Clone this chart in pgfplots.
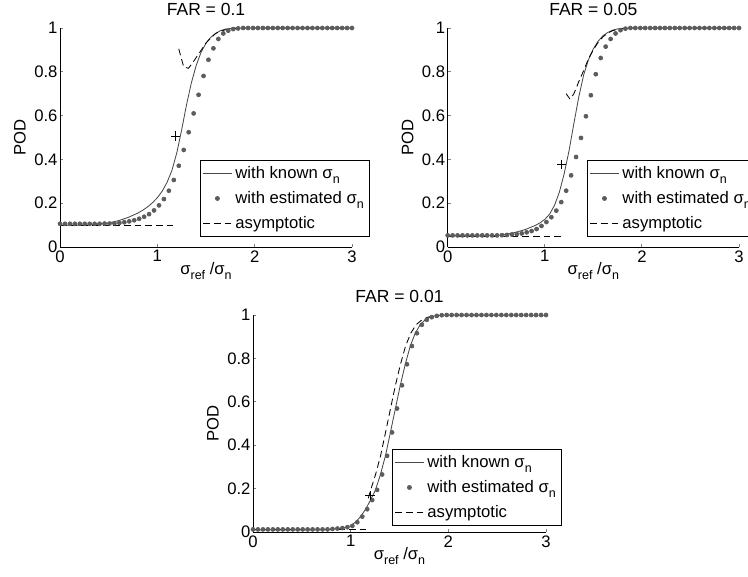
\documentclass[border=0pt]{standalone}
\usepackage{fontspec}
\setmainfont{Liberation Sans}
\usepackage{pgfplots}
\usepackage{pgfplotstable}
\pgfplotsset{compat=1.18}

\definecolor{solidgray}{gray}{0.28}
\definecolor{dotgray}{gray}{0.36}
\newcommand{\sub}[1]{\raisebox{-0.6ex}{\fontsize{7.5}{9}\selectfont #1}}

% estimated-sigma POD, x = 3k/59; columns a,b,c = FAR 0.1, 0.05, 0.01
\pgfplotstableread{
x      a     b     c
0.0000 0.106 0.053 0.012
0.0508 0.106 0.053 0.012
0.1017 0.106 0.053 0.012
0.1525 0.106 0.053 0.012
0.2034 0.106 0.053 0.012
0.2542 0.106 0.053 0.012
0.3051 0.106 0.053 0.012
0.3559 0.106 0.053 0.012
0.4068 0.106 0.053 0.012
0.4576 0.107 0.053 0.012
0.5085 0.107 0.053 0.012
0.5593 0.108 0.054 0.012
0.6102 0.110 0.055 0.012
0.6610 0.113 0.057 0.012
0.7119 0.117 0.059 0.012
0.7627 0.122 0.062 0.012
0.8136 0.129 0.067 0.014
0.8644 0.138 0.073 0.016
0.9153 0.150 0.082 0.018
0.9661 0.167 0.096 0.022
1.0169 0.190 0.114 0.028
1.0678 0.219 0.136 0.045
1.1186 0.257 0.166 0.071
1.1695 0.306 0.205 0.105
1.2203 0.371 0.257 0.147
1.2712 0.443 0.327 0.194
1.3220 0.524 0.411 0.265
1.3729 0.610 0.498 0.351
1.4237 0.695 0.597 0.459
1.4746 0.781 0.693 0.569
1.5254 0.855 0.789 0.676
1.5763 0.907 0.863 0.773
1.6271 0.950 0.915 0.857
1.6780 0.975 0.950 0.916
1.7288 0.988 0.975 0.955
1.7797 0.995 0.990 0.978
1.8305 0.998 0.997 0.990
1.8814 1.000 1.000 0.996
1.9322 1.000 1.000 0.999
1.9831 1.000 1.000 1.000
2.0339 1.000 1.000 1.000
2.0847 1.000 1.000 1.000
2.1356 1.000 1.000 1.000
2.1864 1.000 1.000 1.000
2.2373 1.000 1.000 1.000
2.2881 1.000 1.000 1.000
2.3390 1.000 1.000 1.000
2.3898 1.000 1.000 1.000
2.4407 1.000 1.000 1.000
2.4915 1.000 1.000 1.000
2.5424 1.000 1.000 1.000
2.5932 1.000 1.000 1.000
2.6441 1.000 1.000 1.000
2.6949 1.000 1.000 1.000
2.7458 1.000 1.000 1.000
2.7966 1.000 1.000 1.000
2.8475 1.000 1.000 1.000
2.8983 1.000 1.000 1.000
2.9492 1.000 1.000 1.000
3.0000 1.000 1.000 1.000
}\estdata

\pgfplotsset{
  podaxis/.style={
    anchor=south west, scale only axis,
    width=175.2pt, height=131.4pt,
    xmin=0, xmax=3, ymin=0, ymax=1,
    axis x line*=bottom, axis y line*=left,
    axis line style={line width=0.5pt},
    tick align=inside, major tick length=2pt,
    tick style={line width=0.5pt},
    xtick={0,1,2,3}, ytick={0,0.2,0.4,0.6,0.8,1},
    /pgf/number format/assume math mode=true,
    font=\fontsize{10}{12}\selectfont,
    xticklabel style={yshift=1.5pt},
    yticklabel style={xshift=2pt},
    every axis title/.style={at={(0.5,1)}, anchor=south, inner sep=0pt,
      yshift=7pt, font=\fontsize{10.5}{12}\selectfont},
    xlabel={σ\sub{ref} /σ\sub{n}},
    xlabel style={at={(axis description cs:0.5,0)}, anchor=base, inner sep=0pt, yshift=-16.5pt},
    ylabel={POD},
    ylabel style={at={(axis description cs:0,0.5)}, anchor=center, inner sep=0pt, yshift=24pt},
    legend style={anchor=south west, draw=black, fill=white, line width=0.5pt,
      inner sep=1.5pt, row sep=2.2pt},
    legend cell align=left,
  },
  known/.style={solidgray, line width=0.5pt},
  est/.style={only marks, mark=*, mark size=1.2pt, dotgray, mark options={draw=dotgray, fill=dotgray}},
  asym/.style={black, line width=0.5pt, dash pattern=on 4pt off 2.4pt},
  cross/.style={only marks, mark=+, mark size=2.8pt, black, line width=0.45pt},
}

\begin{document}
\begin{tikzpicture}
\useasboundingbox (0,0) rectangle (448.8pt,345.6pt);

% FAR = 0.1
\begin{axis}[podaxis, at={(36pt,197.4pt)}, title={FAR = 0.1},
  legend style={at={(0.479,0.046)}}]
\addplot[known] coordinates {
(0,0.100) (0.2,0.100) (0.3,0.101) (0.4,0.104) (0.5,0.110) (0.6,0.120)
(0.7,0.135) (0.8,0.155) (0.85,0.168) (0.9,0.183) (0.95,0.202) (1.0,0.225)
(1.05,0.255) (1.1,0.295) (1.15,0.35) (1.2,0.43) (1.25,0.535) (1.3,0.65)
(1.35,0.75) (1.4,0.83) (1.45,0.89) (1.5,0.93) (1.55,0.958) (1.6,0.976)
(1.65,0.988) (1.7,0.995) (1.75,0.998) (1.8,1.0) (2.0,1.0) (3.0,1.0)};
\addplot[est] table[x=x, y=a] {\estdata};
\addplot[asym] coordinates {(0,0.1) (1.2,0.1)};
\addplot[asym, forget plot] coordinates {
(1.22,0.905) (1.27,0.823) (1.32,0.816) (1.37,0.846) (1.44,0.892) (1.5,0.932)
(1.55,0.955) (1.6,0.975) (1.65,0.985) (1.7,0.992) (1.8,0.998) (1.9,1.0) (3.0,1.0)};
\addplot[cross, forget plot] coordinates {(1.19,0.507)};
\legend{with known σ\sub{n}, with estimated σ\sub{n}, asymptotic}
\end{axis}

% FAR = 0.05
\begin{axis}[podaxis, at={(268.6pt,197.4pt)}, width=174.8pt, title={FAR = 0.05},
  legend style={at={(0.478,0.046)}}]
\addplot[known] coordinates {
(0,0.050) (0.3,0.050) (0.4,0.051) (0.5,0.053) (0.6,0.058) (0.7,0.067)
(0.8,0.080) (0.9,0.098) (0.95,0.110) (1.0,0.126) (1.05,0.150) (1.1,0.19)
(1.15,0.25) (1.2,0.335) (1.25,0.44) (1.3,0.565) (1.35,0.685) (1.4,0.785)
(1.45,0.855) (1.5,0.905) (1.55,0.94) (1.6,0.965) (1.65,0.98) (1.7,0.99)
(1.75,0.996) (1.8,0.999) (1.9,1.0) (3.0,1.0)};
\addplot[est] table[x=x, y=b] {\estdata};
\addplot[asym] coordinates {(0,0.05) (1.2,0.05)};
\addplot[asym, forget plot] coordinates {
(1.22,0.70) (1.26,0.675) (1.3,0.70) (1.35,0.755) (1.4,0.805) (1.45,0.86)
(1.5,0.90) (1.55,0.935) (1.6,0.96) (1.65,0.977) (1.7,0.988) (1.8,0.997) (1.9,1.0) (3.0,1.0)};
\addplot[cross, forget plot] coordinates {(1.174,0.378)};
\legend{with known σ\sub{n}, with estimated σ\sub{n}, asymptotic}
\end{axis}

% FAR = 0.01
\begin{axis}[podaxis, at={(151.8pt,26.4pt)}, width=175.8pt, height=130.2pt,
  title={FAR = 0.01}, legend style={at={(0.474,0.028)}}]
\addplot[known] coordinates {
(0,0.010) (0.6,0.010) (0.7,0.011) (0.8,0.013) (0.9,0.017) (0.95,0.021)
(1.0,0.029) (1.05,0.046) (1.102,0.071) (1.153,0.105) (1.203,0.147)
(1.254,0.194) (1.305,0.265) (1.356,0.351) (1.407,0.459) (1.458,0.569)
(1.508,0.676) (1.559,0.773) (1.61,0.857) (1.661,0.916) (1.712,0.955)
(1.763,0.978) (1.814,0.99) (1.864,0.996) (1.915,0.999) (2.0,1.0) (3.0,1.0)};
\addplot[est] table[x=x, y=c] {\estdata};
\addplot[asym] coordinates {(0,0.01) (1.2,0.01)};
\addplot[asym, forget plot] coordinates {
(1.18,0.155) (1.205,0.194) (1.255,0.265) (1.306,0.351) (1.357,0.459)
(1.408,0.569) (1.458,0.676) (1.51,0.773) (1.562,0.857) (1.615,0.916)
(1.67,0.955) (1.73,0.978) (1.79,0.99) (1.85,0.996) (1.9,1.0) (3.0,1.0)};
\addplot[cross, forget plot] coordinates {(1.197,0.167)};
\legend{with known σ\sub{n}, with estimated σ\sub{n}, asymptotic}
\end{axis}
\end{tikzpicture}
\end{document}
